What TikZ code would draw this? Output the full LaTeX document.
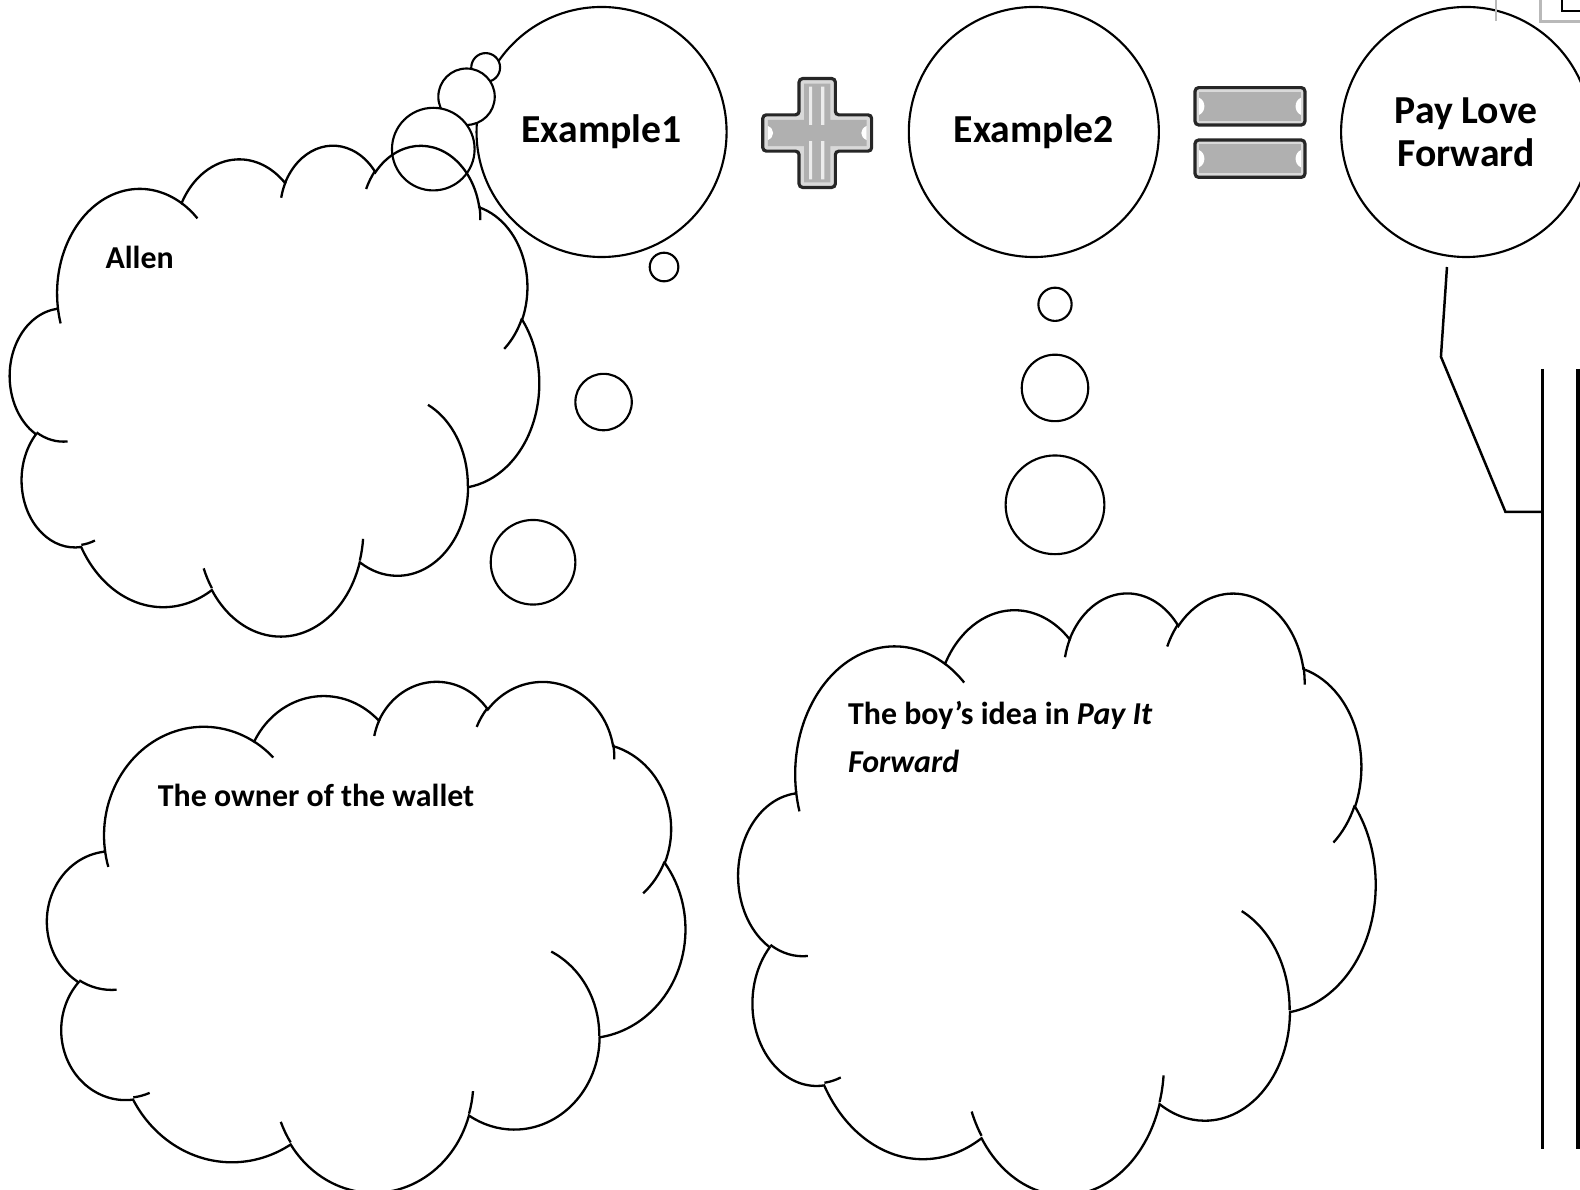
\documentclass[tikz,border=0pt]{standalone}
\usepackage{fontspec}
\setmainfont{Carlito}
\usepackage{tikz}

% one arc of the cloud outline, angles as seen on the ellipse
\newcommand\ooarc[4]{arc[x radius=#1,y radius=#2,
  start angle={#3+mod(atan2(#1*sin(#3),#2*cos(#3))-(#3)+540,360)-180},
  end angle={#3+#4+mod(atan2(#1*sin(#3+#4),#2*cos(#3+#4))-(#3+#4)+540,360)-180}]}

\newcommand\thoughtcloud[4]{%
 \begin{scope}[shift={(#1,#2)},xscale=#3/43.2,yscale=#4/43.2]
  \draw[cloudline] (3.9,14.37)
    \ooarc{6.753}{9.19}{-190.4875}{123.7805}
    \ooarc{5.333}{7.267}{-144.1024}{89.9452}
    \ooarc{4.365}{5.945}{-145.8079}{99.723}
    \ooarc{4.857}{6.595}{-130.9861}{117.2417}
    \ooarc{5.333}{7.273}{-78.7089}{109.0269}
    \ooarc{6.775}{9.22}{-46.2673}{130.269}
    \ooarc{5.785}{7.867}{0.625}{114.0333}
    \ooarc{6.752}{9.215}{22.4516}{115.1726}
    \ooarc{7.72}{10.543}{66.2426}{75.711}
    \ooarc{4.36}{5.918}{-274.9421}{146.7356}
    \ooarc{4.345}{5.945}{-246.8285}{152.5189} -- cycle;
  \draw[cloudline]
    (4.693,26.177) \ooarc{4.345}{5.945}{86.742}{26.4295}
    (6.928,34.899) \ooarc{4.36}{5.918}{73.6105}{11.4475}
    (16.478,39.09) \ooarc{6.752}{9.215}{137.6242}{14.0811}
    (28.827,34.751) \ooarc{6.752}{9.215}{6.4533}{15.9984}
    (34.129,22.954) \ooarc{5.785}{7.867}{-70.2924}{70.9174}
    (41.798,15.354) \ooarc{5.333}{7.273}{30.318}{27.7515}
    (38.324,5.426) \ooarc{4.857}{6.595}{-13.7443}{14.8589}
    (29.078,3.952) \ooarc{4.857}{6.595}{-149.1815}{18.1954}
    (22.141,4.72) \ooarc{4.365}{5.945}{-163.4943}{17.6864}
    (14,5.192) \ooarc{6.753}{9.19}{-66.707}{12.3194}
    (4.127,15.789) \ooarc{6.753}{9.19}{157.6544}{11.8582};
 \end{scope}}

\begin{document}
\begin{tikzpicture}[x=0.01cm,y=-0.01cm]
 \tikzset{
  bigbubble/.style={circle,draw,line width=0.6pt,inner sep=0pt,minimum size=2.48cm,
    align=center,font=\fontsize{11.2}{12.2}\selectfont\bfseries},
  puff/.style={draw,fill=white,line width=0.6pt},
  cloudline/.style={line width=0.65pt},
  note/.style={anchor=base west,inner sep=0pt,align=left,font=\fontsize{9}{13.7}\selectfont\bfseries},
  signout/.style={fill=gray!30,draw=black!85,line width=0.9pt,rounded corners=1pt},
  signin/.style={fill=gray!62},
  notch/.style={fill=white}}
 \useasboundingbox (0,0) rectangle (1568,1180);

 \node[bigbubble] (ex1) at (597,131) {Example1};
 \node[bigbubble] (ex2) at (1026,131) {Example2};
 \node[bigbubble] (plf) at (1455,131) {Pay Love\\Forward};

 \filldraw[signout] (793,78) -- (829,78) -- (829,114) -- (865,114) -- (865,150) -- (829,150)
   -- (829,186) -- (793,186) -- (793,150) -- (757,150) -- (757,114) -- (793,114) -- cycle;
 \fill[signin] (798,83) -- (824,83) -- (824,119) -- (860,119) -- (860,145) -- (824,145)
   -- (824,181) -- (798,181) -- (798,145) -- (762,145) -- (762,119) -- (798,119) -- cycle;
 \fill[gray!15] (803,86) rectangle (806,124) (815,86) rectangle (818,124)
   (803,140) rectangle (806,178) (815,140) rectangle (818,178);
 \fill[notch] (762,125) .. controls (769,128) and (769,136) .. (762,139) -- cycle;
 \fill[notch] (860,125) .. controls (853,128) and (853,136) .. (860,139) -- cycle;

 \foreach \y in {87,139}{
  \filldraw[signout] (1186,\y) rectangle (1295,\y+37);
  \fill[signin] (1190,\y+4) rectangle (1291,\y+33);
  \fill[notch] (1190,\y+10) .. controls (1197,\y+13) and (1197,\y+24) .. (1190,\y+27) -- cycle;
  \fill[notch] (1291,\y+10) .. controls (1284,\y+13) and (1284,\y+24) .. (1291,\y+27) -- cycle;
 }

 \draw[puff] (482,67) circle[radius=14.3];
 \draw[puff] (463,96) circle[radius=28];
 \draw[puff] (430,148) circle[radius=41];
 \thoughtcloud{10}{143}{525}{487}
 \node[note] (allen) at (104,266) {Allen};

 \draw[puff] (659,265) circle[radius=14.2];
 \draw[puff] (599,399) circle[radius=28];
 \draw[puff] (529,558) circle[radius=42];
 \thoughtcloud{47}{675}{633}{507}
 \node[note] (owner) at (156,800) {The owner of the wallet};

 \draw[puff] (1047,302) circle[radius=16.5];
 \draw[puff] (1047,385) circle[radius=33];
 \draw[puff] (1047,501) circle[radius=49];
 \thoughtcloud{733}{587}{632}{597}
 \node[note] (boy) at (841,767) {The boy’s idea in \textit{Pay It}\\\textit{Forward}};

 \coordinate (tail) at (1436,265);
 \coordinate (knee) at (1430,354);
 \coordinate (foot) at (1494,508);
 \coordinate (brkA) at (1531,366);
 \coordinate (brkB) at (1531,1140);
 \coordinate (brkC) at (1566,366);
 \coordinate (brkD) at (1566,1140);
 \draw[line width=0.7pt] (tail) -- (knee) -- (foot) -- (foot -| brkA);
 \draw[line width=0.9pt] (brkA) -- (brkB) (brkC) -- (brkD);

 \draw[gray!55,line width=0.5pt] (1485,0) -- (1485,21);
 \draw[gray!55,line width=0.9pt] (1529,0) -- (1529,21) -- (1570,21);
 \draw[line width=0.5pt] (1550,0) -- (1550,11) -- (1570,11);
\end{tikzpicture}
\end{document}
